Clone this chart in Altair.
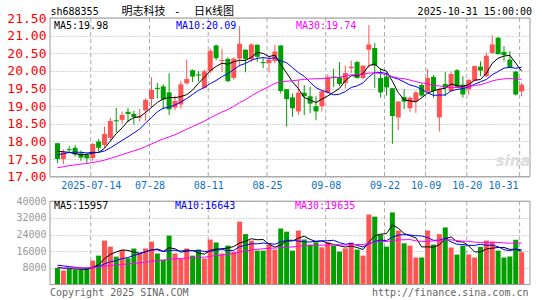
import altair as alt
import numpy as np
import pandas as pd

# ---------------- data ----------------
opens = [17.95, 17.50, 17.78, 17.82, 17.66, 17.61, 17.53, 18.00, 17.90, 18.10,
         18.60, 18.61, 18.84, 18.78, 18.68, 18.88, 19.20, 19.52, 19.56, 19.39,
         18.96, 19.05, 19.65, 20.02, 19.90, 19.52, 19.99, 20.72, 20.28, 20.34,
         19.80, 20.35, 20.60, 20.33, 20.74, 20.25, 20.22, 20.28, 20.72, 19.48,
         19.25, 18.85, 19.38, 19.28, 19.00, 19.00, 19.38, 19.84, 19.82, 19.66,
         20.08, 20.25, 19.80, 20.60, 20.65, 19.80, 19.84, 19.51, 18.68, 19.26,
         18.94, 19.14, 19.60, 19.42, 19.83, 18.68, 19.63, 19.43, 20.02, 19.61,
         19.48, 19.72, 20.12, 19.85, 20.51, 20.94, 20.54, 20.32, 19.98, 19.42]
highs = [17.96, 17.78, 17.87, 17.90, 17.74, 17.68, 17.95, 18.07, 18.42, 18.67,
         18.95, 18.85, 18.95, 18.87, 18.92, 19.22, 19.82, 19.66, 19.62, 19.93,
         19.30, 19.71, 20.32, 20.04, 19.99, 20.03, 20.63, 20.75, 20.63, 20.38,
         20.38, 21.27, 20.61, 20.78, 20.75, 20.38, 20.40, 20.74, 20.73, 19.48,
         19.36, 19.75, 19.60, 19.55, 19.28, 19.45, 19.90, 20.06, 20.25, 20.15,
         20.29, 20.28, 20.15, 21.30, 20.79, 20.08, 19.95, 19.51, 19.14, 19.48,
         19.28, 19.44, 19.65, 20.06, 19.88, 19.50, 19.97, 19.98, 20.05, 19.85,
         19.75, 20.14, 20.27, 20.52, 21.01, 20.96, 20.70, 20.56, 20.00, 19.66]
lows = [17.39, 17.36, 17.70, 17.57, 17.45, 17.39, 17.44, 17.71, 17.82, 18.03,
        18.25, 18.50, 18.55, 18.48, 18.56, 18.58, 18.95, 19.22, 18.91, 18.75,
        18.88, 18.93, 19.61, 19.68, 19.70, 19.50, 19.93, 20.30, 19.97, 19.68,
        19.75, 20.12, 19.96, 20.26, 20.26, 20.08, 19.95, 20.22, 19.36, 18.42,
        18.70, 18.75, 18.75, 18.80, 18.60, 18.85, 19.35, 19.54, 19.57, 19.50,
        19.94, 19.78, 19.76, 20.08, 19.52, 19.24, 19.30, 17.93, 18.32, 18.92,
        18.84, 18.81, 19.27, 19.40, 19.24, 18.28, 19.28, 19.40, 19.52, 19.24,
        19.32, 19.70, 19.85, 19.82, 20.48, 20.48, 20.27, 20.08, 19.30, 19.28]
closes = [17.50, 17.69, 17.75, 17.63, 17.54, 17.52, 17.93, 17.82, 18.21, 18.58,
          18.57, 18.75, 18.78, 18.69, 18.71, 19.18, 19.46, 19.49, 19.19, 18.91,
          19.15, 19.62, 19.77, 19.84, 19.87, 19.99, 20.57, 20.36, 20.31, 19.71,
          20.35, 20.77, 20.34, 20.75, 20.40, 20.22, 20.32, 20.55, 19.43, 19.20,
          18.94, 19.38, 19.28, 19.07, 18.85, 19.42, 19.82, 19.81, 19.63, 19.94,
          20.12, 19.80, 20.15, 20.75, 20.15, 19.39, 19.53, 18.72, 19.13, 19.13,
          19.24, 19.39, 19.30, 19.80, 19.43, 19.49, 19.52, 19.91, 19.55, 19.33,
          19.75, 20.14, 20.01, 20.43, 20.75, 20.47, 20.45, 20.10, 19.33, 19.61]
volumes = [8000, 6700, 7700, 7200, 7200, 8000, 11500, 13900, 21100, 18200,
           13400, 16600, 12600, 17300, 15200, 17300, 20600, 14900, 12000, 23500,
           14900, 12500, 17300, 13900, 16800, 12500, 21600, 20200, 14900, 18700,
           15800, 30200, 24200, 21100, 16300, 16300, 19200, 16800, 26900, 25400,
           16300, 25900, 21600, 19200, 20300, 17900, 20300, 18700, 15800, 17400,
           20200, 16800, 13900, 33600, 32600, 24000, 18200, 34600, 25900, 19800,
           18700, 13000, 13000, 25900, 19200, 24200, 27400, 17800, 14400, 18700,
           14400, 13000, 18100, 21100, 20600, 16300, 13000, 13500, 21500, 15500]
# sessions before the first visible day (estimated so the moving averages start where the picture shows)
prior_closes = [16.80, 16.85, 16.95, 16.90, 17.00, 17.05, 16.98, 17.10, 17.02, 17.08,
                17.15, 17.05, 17.12, 17.20, 17.10, 17.18, 17.25, 17.15, 17.22, 17.25,
                17.35, 17.45, 17.50, 17.60, 17.70, 17.75, 17.85, 17.80, 17.70]
prior_volumes = [7000, 7500, 6800, 7200, 8000, 7600, 7100, 6900, 7400, 7800,
                 7300, 7000, 7700, 7500, 7200, 6900, 7600, 7400, 7300, 7800,
                 9800, 11500, 10200, 10600, 9400, 8800, 8200, 8600, 7900]

tick_index = [6, 16, 26, 36, 46, 56, 63, 70, 79]
tick_labels = ["2025-07-14", "07-28", "08-11", "08-25", "09-08", "09-22", "10-09", "10-20", "10-31"]
price_ticks = [17.0, 17.5, 18.0, 18.5, 19.0, 19.5, 20.0, 20.5, 21.0, 21.5]
volume_ticks = [8000, 16000, 24000, 32000, 40000]
price_ma_last = [19.98, 20.09, 19.74]
volume_ma_last = [15957, 16643, 19635]

# ---------------- styling ----------------
RED = "#ff5454"
GREEN = "#00a000"
MA_COLORS = ["#000000", "#0000ff", "#ff00ff"]
GRID = "#aaaaaa"
FRAME = "#999999"
XLAB = "#0a6fc2"
MONO = "DejaVu Sans Mono"
CJK = "Noto Sans CJK SC"

W = 480
H = 266.6
PRICE_H = 158.7                      # 21.5 -> 17.0
price_lo = 21.5 - H / (PRICE_H / 4.5)
vol_hi = H / 83.4 * 40000            # 40000 spans 83.4 px

m = len(prior_closes)
cs = pd.Series(prior_closes + closes, dtype=float)
vs = pd.Series(prior_volumes + volumes, dtype=float)
df = pd.DataFrame({"k": np.arange(len(closes)), "open": opens, "high": highs,
                   "low": lows, "close": closes, "volume": volumes})
for n in (5, 10, 30):
    df[f"ma{n}"] = cs.rolling(n).mean().to_numpy()[m:]
    df[f"vma{n}"] = vs.rolling(n).mean().to_numpy()[m:]
df["dir"] = np.where(df["close"] >= df["open"], "up", "down")

grid_df = pd.DataFrame({"k": tick_index, "label": tick_labels,
                        "ptop": 21.5, "pbot": 17.0, "vtop": 40000, "vbot": 0})
frame_df = pd.DataFrame({"ptop": [21.5], "pbot": [17.0], "vtop": [40000], "vbot": [0]})

xs = alt.Scale(domain=[-1 / 12, len(closes) - 1 / 12], nice=False, zero=False)
ys_p = alt.Scale(domain=[price_lo, 21.5], nice=False, zero=False)
ys_v = alt.Scale(domain=[0, vol_hi], nice=False, zero=False)

axis_idx = tick_index[:-1]
axis_lab = tick_labels[:-1]
label_expr = ("[" + ",".join(f"'{s}'" for s in axis_lab) + "][indexof(["
              + ",".join(str(i) for i in axis_idx) + "], datum.value)]")
x_axis = alt.Axis(values=axis_idx, labelExpr=label_expr, orient="bottom",
                  offset=-(H - PRICE_H), domain=False, ticks=False, grid=False,
                  labelColor=XLAB, labelFont=MONO, labelFontSize=10,
                  labelPadding=4, labelOverlap=False, title=None)
p_axis = alt.Axis(values=price_ticks, format=".2f", orient="left", domain=False,
                  ticks=False, grid=True, gridColor=GRID, gridDash=[1, 2],
                  labelColor="#ff0000", labelFont=MONO, labelFontSize=13,
                  labelPadding=4, title=None)
v_axis = alt.Axis(values=volume_ticks, format="d", orient="left", domain=False,
                  ticks=False, grid=True, gridColor=GRID, gridDash=[1, 2],
                  labelColor="#999999", labelFont=MONO, labelFontSize=10,
                  labelPadding=4, title=None)

X = alt.X("k:Q", scale=xs, axis=x_axis)
def PY(f):
    return alt.Y(f"{f}:Q", scale=ys_p, axis=p_axis)
def VY(f):
    return alt.Y(f"{f}:Q", scale=ys_v, axis=v_axis)
color = alt.Color("dir:N", scale=alt.Scale(domain=["up", "down"], range=[RED, GREEN]), legend=None)

base = alt.Chart(df)

# price panel
rules_p = alt.Chart(grid_df).mark_rule(color=GRID, strokeDash=[4, 3]).encode(x=X, y=PY("ptop"), y2="pbot")
wick = base.mark_rule(xOffset=2, strokeWidth=1).encode(x=X, y=PY("low"), y2="high", color=color)
body = base.mark_bar(size=5, xOffset=2).encode(x=X, y=PY("open"), y2="close", color=color)
pma = [base.mark_line(color=c, strokeWidth=1, xOffset=2).encode(x=X, y=PY(f"ma{n}"))
       for n, c in zip((5, 10, 30), MA_COLORS)]
frame_p = alt.Chart(frame_df).mark_rect(fillOpacity=0, stroke=FRAME, strokeWidth=1).encode(
    x=alt.value(0), x2=alt.value(W), y=PY("ptop"), y2="pbot")
# the last date label sits flush right against its grid line
last_label = alt.Chart(grid_df.iloc[[-1]]).mark_text(
    align="right", baseline="middle", color=XLAB, font=MONO, fontSize=10, dx=-1).encode(
    x=X, y=alt.value(PRICE_H + 9.5), text="label:N")
price = alt.layer(rules_p, wick, body, *pma, frame_p, last_label)

# volume panel
rules_v = alt.Chart(grid_df).mark_rule(color=GRID, strokeDash=[4, 3]).encode(x=X, y=VY("vtop"), y2="vbot")
vbars = base.mark_bar(size=5, xOffset=2).encode(x=X, y=VY("volume"), y2=alt.Y2(datum=0), color=color)
vma = [base.mark_line(color=c, strokeWidth=1, xOffset=2).encode(x=X, y=VY(f"vma{n}"))
       for n, c in zip((5, 10, 30), MA_COLORS)]
frame_v = alt.Chart(frame_df).mark_rect(fillOpacity=0, stroke=FRAME, strokeWidth=1).encode(
    x=alt.value(0), x2=alt.value(W), y=VY("vtop"), y2="vbot")
volume = alt.layer(rules_v, vbars, *vma, frame_v)

one = pd.DataFrame({"v": [0]})
def label(text, x, y, color, size=10, align="left", font=MONO, **kw):
    return alt.Chart(one).mark_text(text=text, align=align, baseline="middle", color=color,
                                    font=font, fontSize=size, **kw).encode(x=alt.value(x), y=alt.value(y))

texts = [
    label("sh688355", 0.5, -6, "#000000"),
    label("明志科技", 71.5, -6, "#000000", size=11, font=CJK),
    label("-", 124, -6, "#000000", size=11, font=MONO),
    label("日K线图", 144, -6, "#000000", size=11, font=CJK),
    label("2025-10-31 15:00:00", 482, -6, "#000000", align="right"),
    label(f"MA5:{price_ma_last[0]:.2f}", 4, 7.5, MA_COLORS[0]),
    label(f"MA10:{price_ma_last[1]:.2f}", 126, 7.5, MA_COLORS[1]),
    label(f"MA30:{price_ma_last[2]:.2f}", 246, 7.5, MA_COLORS[2]),
    label(f"MA5:{volume_ma_last[0]}", 4, 188, MA_COLORS[0]),
    label(f"MA10:{volume_ma_last[1]}", 125, 188, MA_COLORS[1]),
    label(f"MA30:{volume_ma_last[2]}", 245, 188, MA_COLORS[2]),
    label("Copyright 2025 SINA.COM", 0, 274.5, "#666666"),
    label("http://finance.sina.com.cn", 478.5, 274.5, "#666666", align="right"),
    label("sina", 463, 143, "#dddddd", size=15, align="center", font="DejaVu Sans",
          fontWeight="bold", fontStyle="italic"),
]

chart = alt.layer(price, volume, *texts).resolve_scale(y="independent").properties(
    width=W, height=H,
    padding={"left": 50, "top": 18, "right": 15, "bottom": 300 - 18 - H},
    autosize=alt.AutoSizeParams(type="none"),
    background="white",
).configure_view(strokeWidth=0)

chart.save("out.html", embed_options={"renderer": "svg", "actions": False})
